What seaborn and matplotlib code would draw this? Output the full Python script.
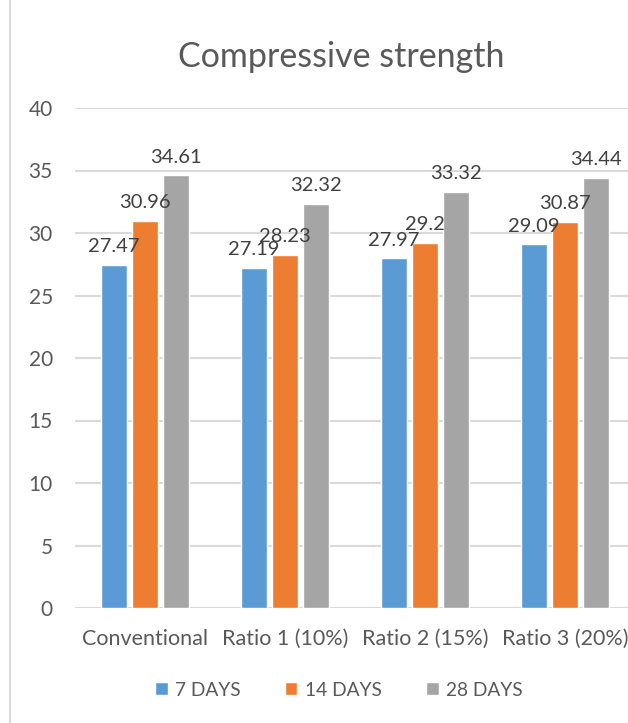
import matplotlib
matplotlib.use("Agg")
import matplotlib.pyplot as plt
from matplotlib.lines import Line2D
import seaborn as sns
import pandas as pd

# Data
categories = ["Conventional", "Ratio 1 (10%)", "Ratio 2 (15%)", "Ratio 3 (20%)"]
series_names = ["7 DAYS", "14 DAYS", "28 DAYS"]
days_7 = [27.47, 27.19, 27.97, 29.09]
days_14 = [30.96, 28.23, 29.2, 30.87]
days_28 = [34.61, 32.32, 33.32, 34.44]
y_ticks = [0, 5, 10, 15, 20, 25, 30, 35, 40]
colors = ["#5B9BD5", "#ED7D31", "#A5A5A5"]

rows = []
for name, vals in zip(series_names, [days_7, days_14, days_28]):
    for cat, v in zip(categories, vals):
        rows.append({"Mix": cat, "Age": name, "Strength": v})
df = pd.DataFrame(rows)

sns.set_theme(style="white")
plt.rcParams["font.family"] = ["Lato", "DejaVu Sans"]

W, H = 628, 723
fig = plt.figure(figsize=(W / 100, H / 100), dpi=100)
ax = fig.add_axes([75 / W, (H - 608) / H, 560 / W, 500 / H])

sns.barplot(data=df, x="Mix", y="Strength", hue="Age", order=categories,
            hue_order=series_names, palette=colors, width=0.664, gap=0.19,
            saturation=1, ax=ax, legend=True, zorder=3)

ax.set_ylim(0, 40)
ax.set_xlim(-0.5, 3.5)
ax.set_yticks(y_ticks)
ax.set_yticklabels([str(t) for t in y_ticks], fontsize=15, color="#595959")
ax.tick_params(axis="x", labelsize=15.5, colors="#595959", length=0, pad=15)
ax.tick_params(axis="y", length=0, pad=16)
ax.set_xlabel("")
ax.set_ylabel("")
ax.grid(axis="y", color="#d9d9d9", linewidth=1.5, zorder=0)
ax.set_axisbelow(True)
for s in ax.spines.values():
    s.set_visible(False)

# Value labels
for cont in ax.containers:
    vals = [r.get_height() for r in cont]
    ax.bar_label(cont, labels=[f"{v:g}" for v in vals], padding=7,
                 fontsize=14.5, color="#404040")

# Legend
handles, labels = ax.get_legend_handles_labels()
ax.legend(handles, labels, loc="center", bbox_to_anchor=(339 / W, 1 - 690 / H),
          bbox_transform=fig.transFigure, ncol=3, frameon=False,
          fontsize=13.8, labelcolor="#595959", handlelength=0.65,
          handleheight=0.65, handletextpad=0.4, columnspacing=2.3)

# Title
fig.text(341 / W, 1 - 57 / H, "Compressive strength", ha="center", va="center",
         fontsize=24.5, color="#595959")

# Chart area border
fig.add_artist(Line2D([10 / W, 10 / W], [0, 1], transform=fig.transFigure,
                      color="#d9d9d9", linewidth=1.5))

fig.savefig("out.png", dpi=100)
